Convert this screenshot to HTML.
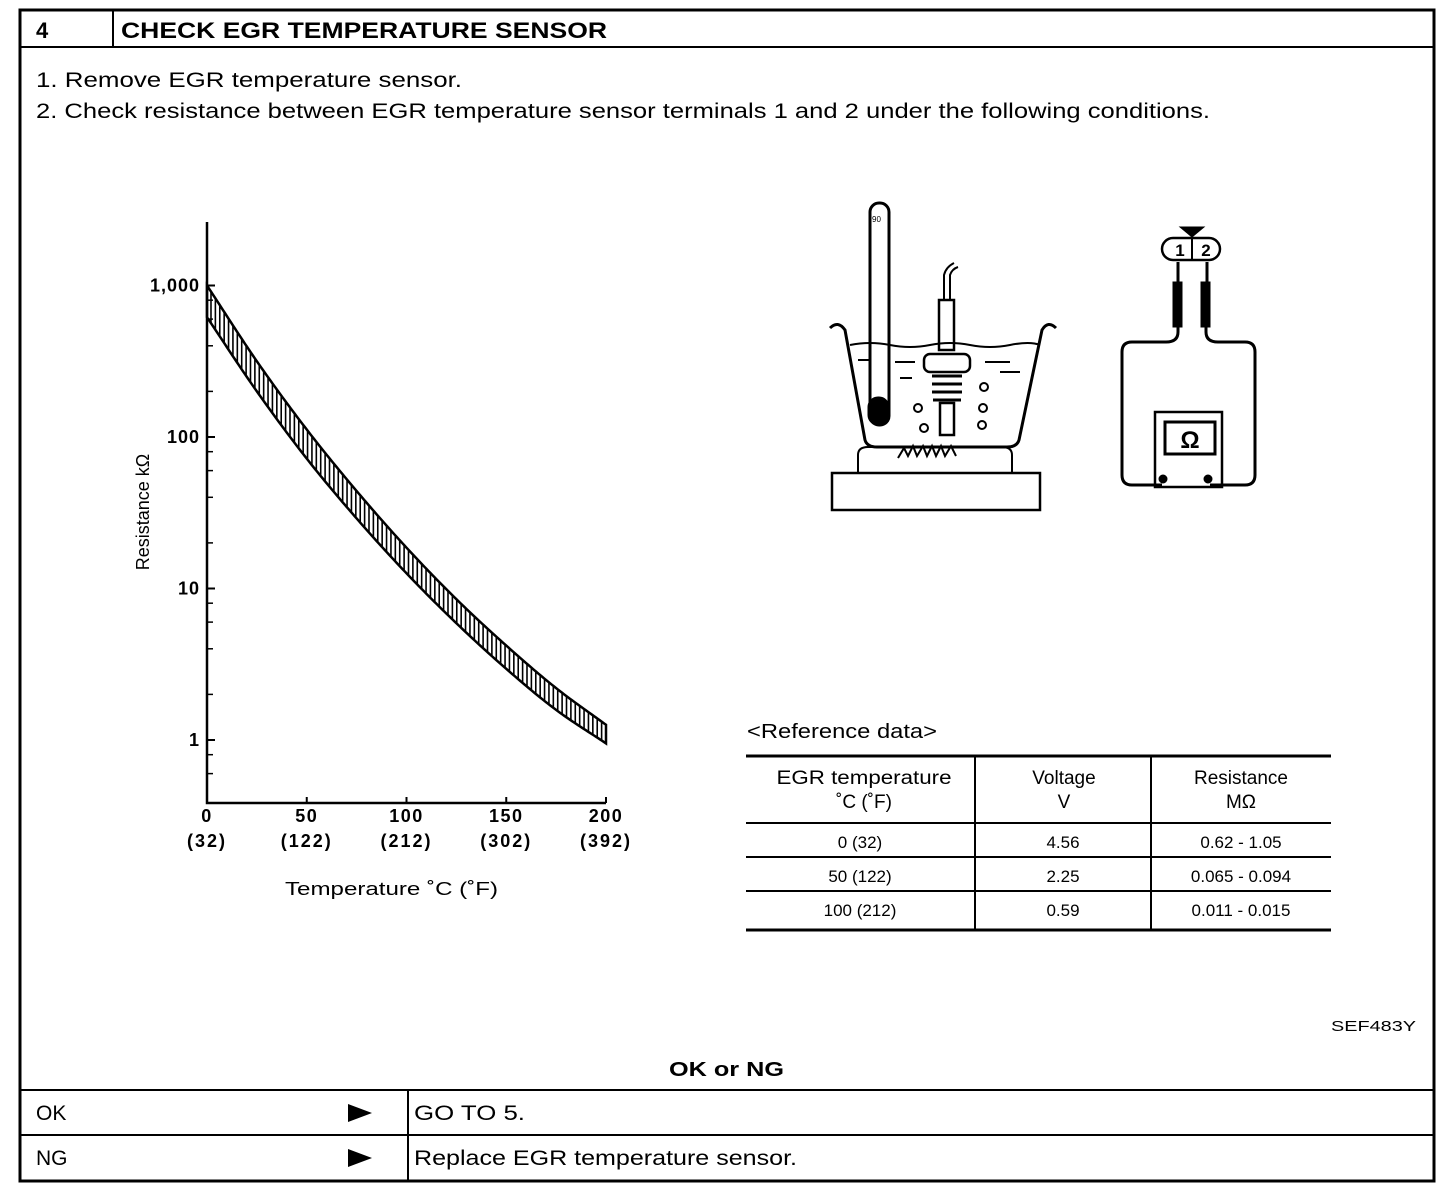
<!DOCTYPE html>
<html><head><meta charset="utf-8"><style>
body{margin:0;background:#fff;width:1456px;height:1196px;overflow:hidden;font-family:"Liberation Sans",Arial,sans-serif;color:#000}
</style></head><body>
<svg width="1456" height="1196" style="position:absolute;left:0;top:0" font-family="Liberation Sans, Arial, sans-serif">
<rect x="20" y="10" width="1414" height="1171" fill="none" stroke="#000" stroke-width="3"/>
<line x1="20" y1="47" x2="1434" y2="47" stroke="#000" stroke-width="2"/>
<line x1="113" y1="10" x2="113" y2="47" stroke="#000" stroke-width="2"/>
<text x="36" y="38" font-size="22" font-weight="bold">4</text>
<text x="121" y="38" font-size="22" font-weight="bold" textLength="486" lengthAdjust="spacingAndGlyphs">CHECK EGR TEMPERATURE SENSOR</text>
<text x="36" y="87" font-size="21" textLength="426" lengthAdjust="spacingAndGlyphs">1.  Remove EGR temperature sensor.</text>
<text x="36" y="118" font-size="21" textLength="1174" lengthAdjust="spacingAndGlyphs">2.  Check resistance between EGR temperature sensor terminals 1 and 2 under the following conditions.</text>

<g id="chart"></g>

<g stroke="#000" fill="none" stroke-width="3">
<rect x="832" y="473" width="208" height="37" stroke-width="2.5"/>
<path d="M858 473 v-18 q0-8 10-8 h26 M1012 473 v-18 q0-8-10-8 h-26" stroke-width="2"/>
<path d="M898 458 l6-10 4 8 5-10 4 10 6-10 4 10 5-10 4 10 5-10 4 10 6-10 5 10" stroke-width="2"/>
<path d="M830 328 q8-8 15 2 l20 110 q2 7 12 7 h130 q10 0 12-7 l23-110 q6-10 14-2"/>
<path d="M850 345 q20-4 40 0 t40 0 t40 0 t40 0 t30 0" stroke-width="2"/>
<path d="M858 360 h12 M895 362 h20 M985 362 h25 M1000 372 h20 M900 378 h12" stroke-width="2"/>
<rect x="870" y="203" width="19" height="222" rx="9" stroke-width="3"/>
<rect x="869" y="398" width="19" height="26" rx="9" fill="#000"/>
<rect x="939" y="300" width="15" height="50" stroke-width="2.5"/>
<path d="M944 300 v-25 q2-8 10-12 M950 300 v-25 q2-6 8-8" stroke-width="2"/>
<rect x="924" y="354" width="46" height="18" rx="6" stroke-width="2.5"/>
<path d="M932 376 h30 M932 384 h30 M932 392 h30 M933 400 h28" stroke-width="3"/>
<rect x="940" y="403" width="14" height="32" stroke-width="2.5"/>
<circle cx="984" cy="387" r="4" stroke-width="2"/><circle cx="918" cy="408" r="4" stroke-width="2"/>
<circle cx="983" cy="408" r="4" stroke-width="2"/><circle cx="924" cy="428" r="4" stroke-width="2"/><circle cx="982" cy="425" r="4" stroke-width="2"/>
</g>
<text x="872" y="222" font-size="8">90</text>
<g stroke="#000" fill="none" stroke-width="3">
<path d="M1178 262 v20 M1207 262 v20"/>
<rect x="1173" y="282" width="9" height="45" fill="#000" stroke-width="1"/>
<rect x="1201" y="282" width="9" height="45" fill="#000" stroke-width="1"/>
<path d="M1178 327 v5 q0 10-12 10 h-34 q-10 0-10 10 v123 q0 10 10 10 h30"/>
<path d="M1206 327 v5 q0 10 12 10 h27 q10 0 10 10 v123 q0 10-10 10 h-35"/>
<rect x="1155" y="412" width="67" height="75" stroke-width="2.5"/>
<rect x="1165" y="422" width="50" height="32" stroke-width="3"/>
<circle cx="1163" cy="479" r="3" fill="#000"/><circle cx="1208" cy="479" r="3" fill="#000"/>
<rect x="1162" y="238" width="58" height="22" rx="11" stroke-width="2.5"/>
<path d="M1180 227 h24 l-12 10 z" fill="#000" stroke-width="1"/>
<line x1="1192" y1="238" x2="1192" y2="260" stroke-width="2"/>
</g>
<text x="1190" y="448" font-size="24" font-weight="bold" text-anchor="middle">Ω</text>
<text x="1180" y="256" font-size="17" font-weight="bold" text-anchor="middle">1</text>
<text x="1206" y="256" font-size="17" font-weight="bold" text-anchor="middle">2</text>

<text x="747" y="738" font-size="20" textLength="190" lengthAdjust="spacingAndGlyphs">&lt;Reference data&gt;</text>
<g stroke="#000">
<line x1="746" y1="756" x2="1331" y2="756" stroke-width="3"/>
<line x1="746" y1="823" x2="1331" y2="823" stroke-width="2"/>
<line x1="746" y1="857" x2="1331" y2="857" stroke-width="2"/>
<line x1="746" y1="891" x2="1331" y2="891" stroke-width="2"/>
<line x1="746" y1="930" x2="1331" y2="930" stroke-width="3"/>
<line x1="975" y1="756" x2="975" y2="930" stroke-width="2"/>
<line x1="1151" y1="756" x2="1151" y2="930" stroke-width="2"/>
</g>
<g font-size="19" text-anchor="middle">
<text x="864" y="784" textLength="175" lengthAdjust="spacingAndGlyphs">EGR temperature</text><text x="864" y="808">˚C (˚F)</text>
<text x="1064" y="784">Voltage</text><text x="1064" y="808">V</text>
<text x="1241" y="784">Resistance</text><text x="1241" y="808">MΩ</text>
<text x="860" y="848" font-size="17">0 (32)</text><text x="1063" y="848" font-size="17">4.56</text><text x="1241" y="848" font-size="17">0.62 - 1.05</text>
<text x="860" y="882" font-size="17">50 (122)</text><text x="1063" y="882" font-size="17">2.25</text><text x="1241" y="882" font-size="17">0.065 - 0.094</text>
<text x="860" y="916" font-size="17">100 (212)</text><text x="1063" y="916" font-size="17">0.59</text><text x="1241" y="916" font-size="17">0.011 - 0.015</text>
</g>
<text x="1331" y="1031" font-size="15" textLength="85" lengthAdjust="spacingAndGlyphs">SEF483Y</text>
<text x="669" y="1076" font-size="20" font-weight="bold" textLength="115" lengthAdjust="spacingAndGlyphs">OK or NG</text>
<g stroke="#000" stroke-width="2">
<line x1="20" y1="1090" x2="1434" y2="1090"/>
<line x1="20" y1="1135" x2="1434" y2="1135"/>
<line x1="408" y1="1090" x2="408" y2="1181"/>
</g>
<text x="36" y="1120" font-size="21">OK</text>
<path d="M348 1104 l24 9 -24 9 z" fill="#000"/>
<text x="414" y="1120" font-size="21" textLength="111" lengthAdjust="spacingAndGlyphs">GO TO 5.</text>
<text x="36" y="1165" font-size="21">NG</text>
<path d="M348 1149 l24 9 -24 9 z" fill="#000"/>
<text x="414" y="1165" font-size="21" textLength="383" lengthAdjust="spacingAndGlyphs">Replace EGR temperature sensor.</text>
</svg>
<script>
const temps=[0,25,50,75,100,125,150,175,200];
const upperR=[1000,316,112,44,18.6,8.5,4.2,2.2,1.26];
const lowerR=[617,200,72,29,12.6,5.9,2.95,1.58,0.95];
const yTickVals=[1,10,100,1000];
const yTickLabels=["1","10","100","1,000"];
const xTickVals=[0,50,100,150,200];
const xTickLabels=["0","50","100","150","200"];
const xTickSub=["(32)","(122)","(212)","(302)","(392)"];
const NS="http://www.w3.org/2000/svg";
const X0=207,X1=606,YB=803,YT=222;
const xs=t=>X0+(t-0)/(200-0)*(X1-X0);
const ys=v=>740-151.5*Math.log10(v);
const g=document.getElementById('chart');
function mk(tag,at){const e=document.createElementNS(NS,tag);for(const k in at)e.setAttribute(k,at[k]);g.appendChild(e);return e;}
function interp(arr,t){
  const L=arr.map(v=>Math.log10(v));const n=L.length;
  let i=0;while(i<n-2&&t>temps[i+1])i++;
  const f=(t-temps[i])/(temps[i+1]-temps[i]);
  const p0=i>0?L[i-1]:2*L[0]-L[1],p1=L[i],p2=L[i+1],p3=i+2<n?L[i+2]:2*L[n-1]-L[n-2];
  const v=0.5*((2*p1)+(-p0+p2)*f+(2*p0-5*p1+4*p2-p3)*f*f+(-p0+3*p1-3*p2+p3)*f*f*f);
  return Math.pow(10,v);
}
let ax=mk('path',{d:`M${X0} ${YT} V${YB} H${X1}`,fill:'none',stroke:'#000','stroke-width':2.5});


[1,10,100].forEach(d=>[2,4,6,8].forEach(m=>{const y=ys(d*m);mk('line',{x1:X0,y1:y,x2:X0+6,y2:y,stroke:'#000','stroke-width':1.5});}));
[0.6,0.8].forEach(v=>{const y=ys(v);mk('line',{x1:X0,y1:y,x2:X0+6,y2:y,stroke:'#000','stroke-width':1.5});});
yTickVals.forEach((v,i)=>{const y=ys(v);mk('line',{x1:X0,y1:y,x2:X0+8,y2:y,stroke:'#000','stroke-width':2});
const t=mk('text',{x:X0-7,y:y+6,'font-size':18,'font-weight':'bold','text-anchor':'end','letter-spacing':1});t.textContent=yTickLabels[i];

});
xTickVals.forEach((v,i)=>{const x=xs(v);mk('line',{x1:x,y1:YB,x2:x,y2:YB-6,stroke:'#000','stroke-width':2});
const t=mk('text',{x:x,y:YB+19,'font-size':18,'font-weight':'bold','text-anchor':'middle','letter-spacing':1.5});t.textContent=xTickLabels[i];


const s=mk('text',{x:x,y:YB+44,'font-size':18,'font-weight':'bold','text-anchor':'middle','letter-spacing':2});s.textContent=xTickSub[i];

});
const yt=mk('text',{x:0,y:0,'font-size':18,'text-anchor':'middle',transform:`translate(149,512) rotate(-90)`});yt.textContent='Resistance kΩ';


const xt=mk('text',{x:285,y:895,'font-size':18,textLength:213,lengthAdjust:'spacingAndGlyphs'});xt.textContent='Temperature ˚C  (˚F)';


let pts=[];for(let t=0;t<=200;t+=1)pts.push(xs(t)+','+ys(interp(upperR,t)));
for(let t=200;t>=0;t-=1)pts.push(xs(t)+','+ys(interp(lowerR,t)));
for(let t=2;t<200;t+=2.2){const x=xs(t);mk('line',{x1:x,y1:ys(interp(upperR,t)),x2:x,y2:ys(interp(lowerR,t)),stroke:'#000','stroke-width':1.6});}
const band=mk('polygon',{points:pts.join(' '),fill:'none',stroke:'#000','stroke-width':2.5});


</script>
</body></html>
